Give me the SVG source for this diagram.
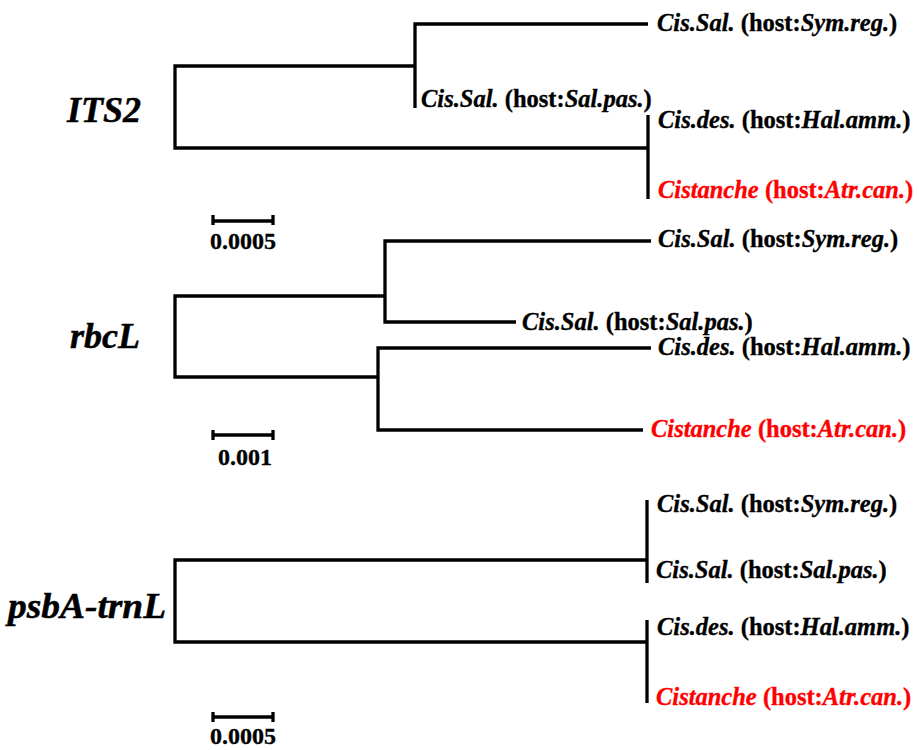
<svg xmlns="http://www.w3.org/2000/svg" width="919" height="750" viewBox="0 0 919 750">
  <style>
    .br { fill: none; stroke: #000; stroke-width: 3.3; stroke-linejoin: miter; stroke-linecap: butt; }
    .tip { font-family: "Liberation Serif", "Times New Roman", serif; font-weight: bold; font-size: 24.5px; fill: #000; stroke: #000; stroke-width: 0.35; }
    .red { fill: #ff0000; stroke: #ff0000; }
    .it { font-style: italic; }
    .gene { font-family: "Liberation Serif", "Times New Roman", serif; font-weight: bold; font-style: italic; font-size: 36px; fill: #000; stroke: #000; stroke-width: 0.5; }
    .sc { font-family: "Liberation Serif", "Times New Roman", serif; font-weight: bold; font-size: 24px; fill: #000; stroke: #000; stroke-width: 0.35; text-anchor: middle; }
  </style>
  <rect width="919" height="750" fill="#fff"/>

  <!-- ITS2 tree -->
  <g id="tree-its2">
    <g id="its2-connectors">
      <polyline class="br" points="415,66 175,66 175,148 648,148"/>
      <polyline class="br" points="648,24 415,24 415,108"/>
      <line class="br" x1="648" y1="115" x2="648" y2="199"/>
    </g>
    <g id="its2-title"><text class="gene" x="67" y="122">ITS2</text></g>
    <g id="its2-symreg"><text class="tip" x="657" y="31"><tspan class="it">Cis.Sal.</tspan> (host:<tspan class="it">Sym.reg.</tspan>)</text></g>
    <g id="its2-salpas"><text class="tip" x="421" y="107"><tspan class="it">Cis.Sal.</tspan> (host:<tspan class="it">Sal.pas.</tspan>)</text></g>
    <g id="its2-halamm"><text class="tip" x="658" y="128"><tspan class="it">Cis.des.</tspan> (host:<tspan class="it">Hal.amm.</tspan>)</text></g>
    <g id="its2-atrcan"><text class="tip red" x="658" y="198"><tspan class="it">Cistanche</tspan> (host:<tspan class="it">Atr.can.</tspan>)</text></g>
    <g id="its2-scale">
      <line class="br" x1="213" y1="221" x2="273" y2="221"/>
      <line class="br" x1="213" y1="215" x2="213" y2="225"/>
      <line class="br" x1="273" y1="215" x2="273" y2="225"/>
      <text class="sc" x="243" y="249">0.0005</text>
    </g>
  </g>

  <!-- rbcL tree -->
  <g id="tree-rbcl">
    <g id="rbcl-connectors">
      <polyline class="br" points="385,296 175,296 175,377 378,377"/>
      <polyline class="br" points="651,241 385,241 385,322 516,322"/>
      <polyline class="br" points="651,348 378,348 378,430 643,430"/>
    </g>
    <g id="rbcl-title"><text class="gene" x="70" y="348">rbcL</text></g>
    <g id="rbcl-symreg"><text class="tip" x="658" y="247"><tspan class="it">Cis.Sal.</tspan> (host:<tspan class="it">Sym.reg.</tspan>)</text></g>
    <g id="rbcl-salpas"><text class="tip" x="522" y="330"><tspan class="it">Cis.Sal.</tspan> (host:<tspan class="it">Sal.pas.</tspan>)</text></g>
    <g id="rbcl-halamm"><text class="tip" x="658" y="355"><tspan class="it">Cis.des.</tspan> (host:<tspan class="it">Hal.amm.</tspan>)</text></g>
    <g id="rbcl-atrcan"><text class="tip red" x="651" y="437"><tspan class="it">Cistanche</tspan> (host:<tspan class="it">Atr.can.</tspan>)</text></g>
    <g id="rbcl-scale">
      <line class="br" x1="213" y1="435" x2="273" y2="435"/>
      <line class="br" x1="213" y1="430" x2="213" y2="440"/>
      <line class="br" x1="273" y1="430" x2="273" y2="440"/>
      <text class="sc" x="245" y="465">0.001</text>
    </g>
  </g>

  <!-- psbA-trnL tree -->
  <g id="tree-psba">
    <g id="psba-connectors">
      <polyline class="br" points="647,560 175,560 175,642 647,642"/>
      <line class="br" x1="647" y1="500" x2="647" y2="583"/>
      <line class="br" x1="647" y1="620" x2="647" y2="703"/>
    </g>
    <g id="psba-title"><text class="gene" x="8" y="618" textLength="158" lengthAdjust="spacingAndGlyphs">psbA-trnL</text></g>
    <g id="psba-symreg"><text class="tip" x="657" y="512"><tspan class="it">Cis.Sal.</tspan> (host:<tspan class="it">Sym.reg.</tspan>)</text></g>
    <g id="psba-salpas"><text class="tip" x="656" y="578"><tspan class="it">Cis.Sal.</tspan> (host:<tspan class="it">Sal.pas.</tspan>)</text></g>
    <g id="psba-halamm"><text class="tip" x="657" y="635"><tspan class="it">Cis.des.</tspan> (host:<tspan class="it">Hal.amm.</tspan>)</text></g>
    <g id="psba-atrcan"><text class="tip red" x="656" y="705"><tspan class="it">Cistanche</tspan> (host:<tspan class="it">Atr.can.</tspan>)</text></g>
    <g id="psba-scale">
      <line class="br" x1="213" y1="717" x2="273" y2="717"/>
      <line class="br" x1="213" y1="712" x2="213" y2="722"/>
      <line class="br" x1="273" y1="712" x2="273" y2="722"/>
      <text class="sc" x="243" y="744">0.0005</text>
    </g>
  </g>
</svg>
